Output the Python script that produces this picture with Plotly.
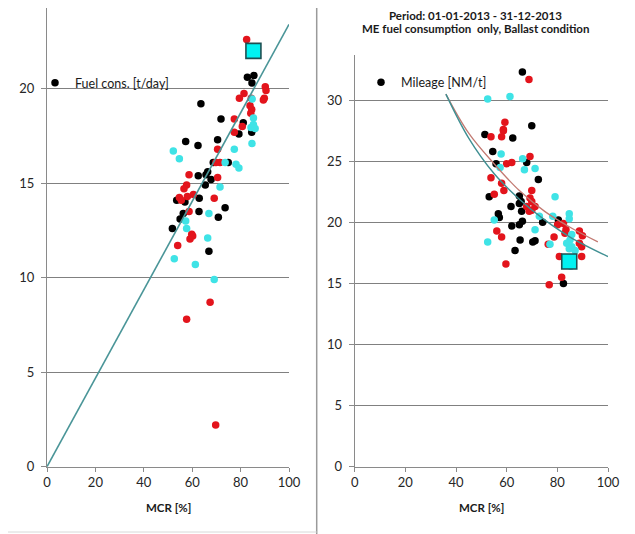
import plotly.graph_objects as go

# The page body adds an 8px margin, so the figure is sized to fill the 635x534 window from (8, 8).
WIN_W, WIN_H, OFF = 635, 534, 8
W, H = WIN_W - OFF, WIN_H - OFF

# ---------------- Left panel: Fuel consumption [t/day] vs MCR [%]
fuel_black_x = [82.8, 85.5, 84.7, 63.6, 71.9, 81.1, 79.3, 57.3, 62.4, 70.5, 68.7, 74.9, 62.5, 65.7, 66.4,
                67.8, 65.4, 53.6, 57.0, 62.9, 73.6, 56.3, 62.8, 70.8, 55.0, 51.8, 66.9, 84.6]
fuel_black_y = [20.6, 20.7, 20.3, 19.2, 18.4, 18.2, 17.6, 17.2, 17.0, 17.3, 16.1, 16.1, 15.4, 15.45, 15.6,
                15.2, 14.9, 14.1, 14.0, 14.2, 13.7, 13.4, 13.5, 13.2, 13.1, 12.6, 11.4, 17.7]
fuel_red_x = [82.5, 90.2, 90.5, 89.8, 89.4, 81.4, 79.5, 84.4, 83.9, 84.6, 84.2, 77.4, 80.7, 77.4, 70.5,
              69.8, 71.5, 70.5, 58.7, 57.7, 56.6, 60.5, 58.0, 54.7, 55.5, 69.1, 58.7, 59.8, 59.1, 60.2,
              54.0, 67.4, 57.7, 69.7]
fuel_red_y = [22.6, 20.1, 19.9, 19.5, 19.4, 19.75, 19.5, 19.5, 19.1, 18.9, 18.7, 18.4, 18.0, 17.7, 16.8,
              16.1, 16.1, 15.3, 15.45, 14.9, 14.7, 14.4, 14.3, 14.25, 14.1, 14.2, 13.5, 12.3, 12.05, 12.2,
              11.7, 8.7, 7.8, 2.2]
fuel_cyan_x = [84.8, 85.3, 85.3, 84.3, 86.0, 84.7, 77.4, 52.2, 54.7, 73.6, 78.1, 79.3, 71.5, 66.9, 57.3,
               57.7, 66.4, 52.6, 61.3, 69.1]
fuel_cyan_y = [19.45, 18.45, 18.1, 17.95, 17.9, 17.1, 16.8, 16.7, 16.3, 16.1, 16.0, 15.8, 14.8, 13.4, 13.0,
               12.6, 12.1, 11.0, 10.7, 9.9]
fuel_ref_x = [85.3]
fuel_ref_y = [22.0]
fuel_trend_x = [0, 100]
fuel_trend_y = [0, 23.4]

# ---------------- Right panel: Mileage [NM/t] vs MCR [%]
mil_black_x = [66.2, 69.9, 51.4, 62.4, 54.5, 55.8, 67.9, 72.5, 53.1, 65.0, 65.7, 65.0, 61.7, 65.9, 56.7,
               57.1, 74.2, 80.4, 62.0, 65.0, 66.2, 65.3, 70.3, 71.2, 63.3, 82.4]
mil_black_y = [32.3, 27.9, 27.2, 26.9, 25.8, 24.8, 24.9, 23.5, 22.1, 22.15, 21.7, 21.55, 21.3, 20.9, 20.7,
               20.4, 20.0, 20.2, 19.7, 19.8, 20.1, 18.55, 18.4, 18.5, 17.7, 15.0]
mil_red_x = [68.8, 59.3, 58.7, 53.8, 58.0, 58.7, 60.0, 62.0, 69.2, 53.8, 58.0, 58.9, 69.9, 55.1, 69.2,
             69.9, 67.9, 71.2, 69.9, 68.9, 80.1, 82.4, 83.4, 83.0, 56.1, 58.0, 88.7, 89.9, 88.7, 89.6,
             78.7, 76.4, 80.8, 89.6, 59.7, 81.7, 76.8]
mil_red_y = [31.7, 28.2, 27.6, 27.0, 27.0, 27.5, 24.8, 24.9, 25.4, 23.65, 23.2, 22.6, 22.6, 22.3, 22.0,
             21.7, 21.3, 21.3, 21.0, 20.9, 19.8, 19.9, 19.4, 19.1, 19.3, 18.8, 19.3, 18.9, 18.3, 18.0,
             18.8, 18.2, 17.2, 17.2, 16.6, 15.5, 14.9]
mil_cyan_x = [52.5, 61.3, 57.8, 66.3, 67.0, 71.2, 57.4, 55.1, 72.9, 79.1, 78.2, 84.7, 84.7, 71.2, 85.7,
              85.0, 83.7, 85.7, 84.7, 87.0, 52.5, 77.1, 85.3]
mil_cyan_y = [30.1, 30.3, 25.6, 25.2, 24.3, 24.4, 24.5, 20.2, 20.5, 22.1, 20.5, 20.7, 20.3, 19.4, 19.0,
              18.55, 18.3, 18.0, 17.85, 17.7, 18.4, 18.2, 16.4]
mil_ref_x = [84.7]
mil_ref_y = [16.8]
mil_trend_teal_x = [36, 45, 55, 65, 75, 85, 100]
mil_trend_teal_y = [30.5, 26.9, 24.0, 21.9, 20.2, 18.8, 17.2]
mil_trend_red_x = [36, 45, 55, 65, 75, 85, 96]
mil_trend_red_y = [30.5, 27.3, 24.8, 22.6, 20.9, 19.6, 18.4]

x_ticks = [0, 20, 40, 60, 80, 100]
fuel_y_ticks = [0, 5, 10, 15, 20]
mil_y_ticks = [0, 5, 10, 15, 20, 25, 30]

FONT = "Lato, 'Open Sans', sans-serif"
BLACK, RED, CYAN = "#000000", "#e3141c", "#3fe3e6"
DOT = 7.5

fig = go.Figure()

def dots(x, y, color, xa, ya, name=None, legend=None):
    fig.add_trace(go.Scatter(
        x=x, y=y, mode="markers", xaxis=xa, yaxis=ya,
        marker=dict(color=color, size=DOT, line=dict(width=0)),
        name=name or "", showlegend=name is not None,
        legend=legend or "legend", hoverinfo="x+y"))

# left panel
dots(fuel_black_x, fuel_black_y, BLACK, "x", "y", "Fuel cons. [t/day]", "legend")
dots(fuel_red_x, fuel_red_y, RED, "x", "y")
dots(fuel_cyan_x, fuel_cyan_y, CYAN, "x", "y")
fig.add_trace(go.Scatter(x=fuel_trend_x, y=fuel_trend_y, mode="lines", xaxis="x", yaxis="y",
                         line=dict(color="#4a9598", width=1.6), showlegend=False, hoverinfo="skip"))
fig.add_trace(go.Scatter(x=fuel_ref_x, y=fuel_ref_y, mode="markers", xaxis="x", yaxis="y",
                         marker=dict(symbol="square", size=15, color="#00f2f2",
                                     line=dict(color="#1d4f52", width=1.6)),
                         showlegend=False))

# right panel
dots(mil_black_x, mil_black_y, BLACK, "x2", "y2", "Mileage [NM/t]", "legend2")
dots(mil_red_x, mil_red_y, RED, "x2", "y2")
dots(mil_cyan_x, mil_cyan_y, CYAN, "x2", "y2")
fig.add_trace(go.Scatter(x=mil_trend_red_x, y=mil_trend_red_y, mode="lines", xaxis="x2", yaxis="y2",
                         line=dict(color="#c27a72", width=1.3, shape="spline"), showlegend=False,
                         hoverinfo="skip"))
fig.add_trace(go.Scatter(x=mil_trend_teal_x, y=mil_trend_teal_y, mode="lines", xaxis="x2", yaxis="y2",
                         line=dict(color="#3f8f92", width=1.4, shape="spline"), showlegend=False,
                         hoverinfo="skip"))
fig.add_trace(go.Scatter(x=mil_ref_x, y=mil_ref_y, mode="markers", xaxis="x2", yaxis="y2",
                         marker=dict(symbol="square", size=15, color="#00f2f2",
                                     line=dict(color="#1d4f52", width=1.6)),
                         showlegend=False))

def px_x(p):
    return (p - OFF) / W

def px_y(p):
    return 1 - (p - OFF) / H

AX = "#8a8a8a"
common_x = dict(range=[0, 100], tickvals=x_ticks, ticks="outside", ticklen=4, tickcolor=AX,
                showline=True, linecolor=AX, linewidth=1, showgrid=False, zeroline=False,
                automargin=False,
                tickfont=dict(family=FONT, size=13, color="#262626"), fixedrange=True)
common_y = dict(ticks="outside", ticklen=5, tickcolor=AX, showline=True, linecolor=AX, linewidth=1,
                showgrid=True, gridcolor="#808080", gridwidth=1, zeroline=False, automargin=False,
                tickfont=dict(family=FONT, size=13, color="#262626"), ticklabelstandoff=4,
                fixedrange=True)

fig.update_layout(
    width=W, height=H, margin=dict(l=0, r=0, t=0, b=0, autoexpand=False),
    paper_bgcolor="white", plot_bgcolor="white",
    font=dict(family=FONT, size=13, color="#1a1a1a"),
    xaxis=dict(domain=[px_x(47), px_x(289)], anchor="y", **common_x),
    yaxis=dict(domain=[px_y(466.7), px_y(8)], anchor="x", range=[0, 24.27],
               tickvals=fuel_y_ticks, **common_y),
    xaxis2=dict(domain=[px_x(354.7), px_x(608)], anchor="y2", **common_x),
    yaxis2=dict(domain=[px_y(466.7), px_y(55)], anchor="x2", range=[0, 33.7],
                tickvals=mil_y_ticks, **common_y),
    legend=dict(x=px_x(35), y=px_y(83), xanchor="left", yanchor="middle",
                bgcolor="rgba(0,0,0,0)", borderwidth=0, itemwidth=30,
                font=dict(family=FONT, size=12.5, color="#1a1a1a"), itemclick=False),
    legend2=dict(x=px_x(361), y=px_y(82.5), xanchor="left", yanchor="middle",
                 bgcolor="rgba(0,0,0,0)", borderwidth=0, itemwidth=30,
                 font=dict(family=FONT, size=12.5, color="#1a1a1a"), itemclick=False),
    showlegend=True,
)

annotations = [
    dict(text="<b>Period: 01-01-2013 - 31-12-2013</b>", x=px_x(475), y=px_y(8), yanchor="top"),
    dict(text="<b>ME fuel consumption  only, Ballast condition</b>", x=px_x(475), y=px_y(29),
         yanchor="middle"),
    dict(text="<b>MCR [%]</b>", x=px_x(168), y=px_y(507), yanchor="middle"),
    dict(text="<b>MCR [%]</b>", x=px_x(481.5), y=px_y(507), yanchor="middle"),
]
for a in annotations:
    fig.add_annotation(xref="paper", yref="paper", xanchor="center", borderpad=0,
                       showarrow=False, font=dict(family=FONT, size=11.5, color="#1a1a1a"), **a)

fig.add_shape(type="line", xref="paper", yref="paper", x0=px_x(316.7), x1=px_x(316.7), y0=0, y1=1,
              line=dict(color="#9a9a9a", width=1.5))
fig.add_shape(type="line", xref="paper", yref="paper", x0=0, x1=px_x(316.7), y0=px_y(532), y1=px_y(532),
              line=dict(color="#d8d8d8", width=1))

fig.write_html("out.html")
